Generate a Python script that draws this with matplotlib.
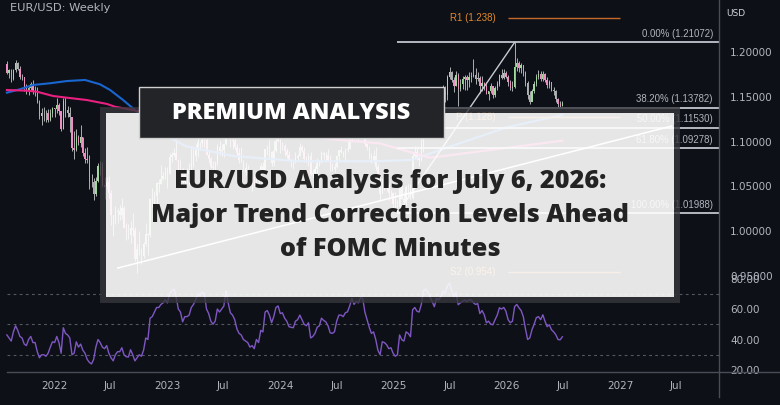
import matplotlib
matplotlib.use("Agg")
import matplotlib.dates as mdates
import matplotlib.pyplot as plt
import matplotlib.transforms as mtransforms
import pandas as pd
from matplotlib.lines import Line2D
from matplotlib.patches import Rectangle
from matplotlib.ticker import FuncFormatter

# ---- data: EUR/USD weekly candles (one bar per week from 2021-08-02) ----
first_week = "2021-08-02"
first_open = 1.1870
close = [
    1.1763, 1.1794, 1.1697, 1.1794, 1.1880, 1.1813, 1.1726, 1.1719, 1.1595, 1.1573,
    1.1600, 1.1644, 1.1557, 1.1568, 1.1446, 1.1288, 1.1318, 1.1315, 1.1317, 1.1238,
    1.1319, 1.1370, 1.1359, 1.1411, 1.1344, 1.1146, 1.1453, 1.1350, 1.1321, 1.1272,
    1.0930, 1.0911, 1.1051, 1.0983, 1.1046, 1.0876, 1.0810, 1.0790, 1.0545, 1.0550,
    1.0412, 1.0559, 1.0730, 1.0719, 1.0518, 1.0495, 1.0554, 1.0425, 1.0184, 1.0080,
    1.0211, 1.0224, 1.0182, 1.0256, 1.0036, 0.9964, 0.9953, 1.0040, 1.0015, 0.9690,
    0.9802, 0.9740, 0.9722, 0.9860, 0.9966, 0.9960, 1.0355, 1.0325, 1.0396, 1.0535,
    1.0530, 1.0584, 1.0616, 1.0705, 1.0644, 1.0830, 1.0855, 1.0870, 1.0795, 1.0679,
    1.0695, 1.0547, 1.0636, 1.0643, 1.0668, 1.0760, 1.0839, 1.0904, 1.0990, 1.0990,
    1.1020, 1.1020, 1.0850, 1.0805, 1.0720, 1.0710, 1.0750, 1.0940, 1.0895, 1.0910,
    1.0970, 1.1230, 1.1125, 1.1015, 1.1005, 1.0945, 1.0870, 1.0795, 1.0775, 1.0700,
    1.0660, 1.0650, 1.0570, 1.0590, 1.0510, 1.0595, 1.0565, 1.0730, 1.0685, 1.0915,
    1.0940, 1.0880, 1.0760, 1.0895, 1.1010, 1.1040, 1.0940, 1.0950, 1.0895, 1.0850,
    1.0790, 1.0785, 1.0775, 1.0820, 1.0840, 1.0940, 1.0890, 1.0810, 1.0790, 1.0840,
    1.0640, 1.0655, 1.0695, 1.0760, 1.0770, 1.0870, 1.0845, 1.0850, 1.0800, 1.0705,
    1.0690, 1.0715, 1.0840, 1.0905, 1.0885, 1.0855, 1.0910, 1.0920, 1.1030, 1.1190,
    1.1050, 1.1085, 1.1075, 1.1165, 1.1165, 1.0975, 1.0935, 1.0865, 1.0795, 1.0835,
    1.0720, 1.0530, 1.0415, 1.0575, 1.0565, 1.0500, 1.0430, 1.0425, 1.0305, 1.0245,
    1.0270, 1.0495, 1.0360, 1.0330, 1.0490, 1.0460, 1.0375, 1.0835, 1.0880, 1.0815,
    1.0800, 1.0960, 1.1360, 1.1395, 1.1365, 1.1300, 1.1250, 1.1165, 1.1365, 1.1350,
    1.1395, 1.1550, 1.1525, 1.1720, 1.1780, 1.1690, 1.1625, 1.1740, 1.1585, 1.1640,
    1.1700, 1.1720, 1.1685, 1.1720, 1.1735, 1.1745, 1.1700, 1.1715, 1.1620, 1.1655,
    1.1625, 1.1535, 1.1565, 1.1620, 1.1515, 1.1595, 1.1640, 1.1740, 1.1710, 1.1770,
    1.1720, 1.1660, 1.1600, 1.1610, 1.1830, 1.1880, 1.1820, 1.1850, 1.1770, 1.1650,
    1.1520, 1.1440, 1.1560, 1.1640, 1.1720, 1.1760, 1.1700, 1.1750, 1.1690, 1.1630,
    1.1660, 1.1580, 1.1560, 1.1470, 1.1420, 1.1400, 1.1430,
]
high = [
    1.1900, 1.1805, 1.1806, 1.1810, 1.1909, 1.1885, 1.1846, 1.1751, 1.1725, 1.1640,
    1.1624, 1.1669, 1.1692, 1.1616, 1.1609, 1.1464, 1.1374, 1.1383, 1.1355, 1.1360,
    1.1360, 1.1386, 1.1375, 1.1483, 1.1434, 1.1339, 1.1483, 1.1495, 1.1395, 1.1390,
    1.1233, 1.1121, 1.1137, 1.1070, 1.1185, 1.1055, 1.0930, 1.0936, 1.0850, 1.0642,
    1.0593, 1.0607, 1.0765, 1.0787, 1.0774, 1.0601, 1.0606, 1.0615, 1.0463, 1.0186,
    1.0278, 1.0254, 1.0294, 1.0368, 1.0277, 1.0090, 1.0079, 1.0114, 1.0198, 1.0051,
    0.9852, 0.9999, 0.9809, 0.9876, 1.0094, 0.9976, 1.0366, 1.0481, 1.0448, 1.0545,
    1.0588, 1.0736, 1.0658, 1.0713, 1.0713, 1.0875, 1.0887, 1.0929, 1.1033, 1.0800,
    1.0805, 1.0706, 1.0691, 1.0700, 1.0760, 1.0930, 1.0925, 1.0973, 1.1076, 1.1000,
    1.1095, 1.1092, 1.1055, 1.0907, 1.0828, 1.0779, 1.0787, 1.0971, 1.1012, 1.0976,
    1.0975, 1.1276, 1.1245, 1.1150, 1.1045, 1.1065, 1.0970, 1.0930, 1.0945, 1.0800,
    1.0769, 1.0737, 1.0656, 1.0600, 1.0640, 1.0640, 1.0695, 1.0756, 1.0775, 1.0918,
    1.0965, 1.1017, 1.0895, 1.1009, 1.1040, 1.1140, 1.1046, 1.1000, 1.0970, 1.0932,
    1.0898, 1.0810, 1.0806, 1.0888, 1.0865, 1.0981, 1.0964, 1.0942, 1.0842, 1.0876,
    1.0885, 1.0690, 1.0733, 1.0812, 1.0790, 1.0895, 1.0885, 1.0889, 1.0916, 1.0852,
    1.0761, 1.0762, 1.0848, 1.0910, 1.0948, 1.0900, 1.0926, 1.1008, 1.1047, 1.1201,
    1.1188, 1.1155, 1.1115, 1.1189, 1.1214, 1.1209, 1.0985, 1.0945, 1.0870, 1.0905,
    1.0937, 1.0750, 1.0610, 1.0597, 1.0630, 1.0595, 1.0535, 1.0456, 1.0437, 1.0436,
    1.0353, 1.0522, 1.0533, 1.0442, 1.0513, 1.0529, 1.0528, 1.0889, 1.0947, 1.0955,
    1.0857, 1.1144, 1.1474, 1.1424, 1.1573, 1.1425, 1.1380, 1.1295, 1.1376, 1.1420,
    1.1495, 1.1631, 1.1615, 1.1745, 1.1830, 1.1790, 1.1720, 1.1788, 1.1770, 1.1700,
    1.1730, 1.1743, 1.1740, 1.1780, 1.1780, 1.1918, 1.1820, 1.1780, 1.1730, 1.1730,
    1.1670, 1.1670, 1.1570, 1.1655, 1.1620, 1.1615, 1.1680, 1.1760, 1.1805, 1.1808,
    1.1790, 1.1745, 1.1690, 1.1680, 1.21072, 1.1930, 1.1900, 1.1880, 1.1860, 1.1790,
    1.1680, 1.1560, 1.1590, 1.1680, 1.1750, 1.1800, 1.1790, 1.1790, 1.1770, 1.1720,
    1.1690, 1.1670, 1.1610, 1.1580, 1.1490, 1.1450, 1.1450,
]
low = [
    1.1752, 1.1705, 1.1664, 1.1693, 1.1780, 1.1800, 1.1700, 1.1684, 1.1563, 1.1529,
    1.1524, 1.1571, 1.1535, 1.1513, 1.1432, 1.1250, 1.1186, 1.1235, 1.1222, 1.1222,
    1.1234, 1.1279, 1.1272, 1.1314, 1.1300, 1.1121, 1.1144, 1.1280, 1.1280, 1.1106,
    1.0900, 1.0806, 1.0900, 1.0960, 1.0945, 1.0837, 1.0757, 1.0760, 1.0471, 1.0490,
    1.0350, 1.0389, 1.0550, 1.0627, 1.0506, 1.0359, 1.0470, 1.0366, 1.0072, 0.9952,
    1.0080, 1.0097, 1.0123, 1.0140, 1.0032, 0.9900, 0.9910, 0.9864, 0.9945, 0.9671,
    0.9536, 0.9737, 0.9632, 0.9705, 0.9840, 0.9730, 0.9935, 1.0270, 1.0223, 1.0290,
    1.0443, 1.0526, 1.0575, 1.0586, 1.0483, 1.0643, 1.0768, 1.0835, 1.0790, 1.0669,
    1.0614, 1.0533, 1.0525, 1.0524, 1.0516, 1.0713, 1.0712, 1.0788, 1.0831, 1.0910,
    1.0943, 1.0941, 1.0849, 1.0760, 1.0700, 1.0635, 1.0662, 1.0735, 1.0845, 1.0834,
    1.0833, 1.0963, 1.1120, 1.0943, 1.0912, 1.0912, 1.0845, 1.0766, 1.0772, 1.0686,
    1.0632, 1.0616, 1.0488, 1.0448, 1.0496, 1.0496, 1.0522, 1.0516, 1.0656, 1.0656,
    1.0852, 1.0828, 1.0723, 1.0724, 1.0880, 1.1000, 1.0877, 1.0908, 1.0844, 1.0821,
    1.0780, 1.0722, 1.0695, 1.0761, 1.0795, 1.0834, 1.0880, 1.0800, 1.0776, 1.0724,
    1.0622, 1.0601, 1.0635, 1.0650, 1.0724, 1.0763, 1.0805, 1.0788, 1.0790, 1.0667,
    1.0671, 1.0666, 1.0710, 1.0790, 1.0870, 1.0825, 1.0777, 1.0880, 1.0915, 1.1020,
    1.1026, 1.1026, 1.1001, 1.1068, 1.1082, 1.0950, 1.0906, 1.0811, 1.0761, 1.0760,
    1.0682, 1.0496, 1.0332, 1.0424, 1.0460, 1.0453, 1.0343, 1.0380, 1.0225, 1.0215,
    1.0199, 1.0265, 1.0356, 1.0212, 1.0285, 1.0401, 1.0360, 1.0360, 1.0806, 1.0797,
    1.0733, 1.0778, 1.0880, 1.1265, 1.1310, 1.1265, 1.1190, 1.1065, 1.1130, 1.1210,
    1.1356, 1.1375, 1.1445, 1.1460, 1.1700, 1.1660, 1.1556, 1.1622, 1.1392, 1.1570,
    1.1590, 1.1573, 1.1575, 1.1608, 1.1660, 1.1725, 1.1645, 1.1680, 1.1540, 1.1560,
    1.1580, 1.1530, 1.1468, 1.1540, 1.1490, 1.1500, 1.1580, 1.1620, 1.1700, 1.1700,
    1.1710, 1.1620, 1.1575, 1.1560, 1.1600, 1.1790, 1.1780, 1.1770, 1.1730, 1.1620,
    1.1480, 1.1420, 1.1450, 1.1540, 1.1620, 1.1700, 1.1680, 1.1680, 1.1660, 1.1600,
    1.1600, 1.1560, 1.1520, 1.1440, 1.1390, 1.1370, 1.1395,
]
rsi = [
    43, 41, 39, 45, 49, 46, 42, 41, 37, 36,
    40, 42, 38, 38, 32, 28, 30, 30, 29, 31,
    35, 38.5, 38, 42, 38, 31, 47.7, 44, 43, 41,
    30, 31, 38.5, 35, 37, 33, 31, 27, 25, 24,
    27, 35, 40, 38, 35, 34, 36, 31, 28, 26,
    30, 32, 32, 34.6, 30, 28.7, 28.5, 33.3, 30, 26,
    28, 30, 29, 33, 41, 40, 54, 55, 58, 61,
    61, 63, 64, 66, 64, 70, 72, 73, 68, 60,
    58, 51.6, 55, 55, 56, 61, 63, 66, 70, 69,
    71, 70, 60, 57, 52, 50, 52, 60, 58, 60,
    62, 72, 64, 57.5, 56, 53, 47, 44, 43, 40,
    39, 38, 35, 36, 34, 40, 38, 46, 45, 58,
    59, 56, 51, 55, 61, 62, 57, 57.5, 54, 52,
    48.4, 48, 47.7, 52, 53, 56, 53, 50, 49, 51,
    41, 42, 44, 48, 49, 54, 52.5, 51.6, 49, 44.4,
    44, 45.1, 52, 56, 56, 55, 57.5, 58.2, 62, 67,
    63, 65, 64, 67.4, 67, 58, 53, 48, 44, 45,
    40, 33, 30, 38.5, 38, 36.6, 34, 34.6, 31, 29,
    30, 43, 39.8, 39, 45, 44, 41.8, 59.5, 61, 58.5,
    58, 63, 72, 73, 71, 68, 65, 61.5, 67, 66,
    68, 72, 70, 75, 77, 72, 68, 71, 62.8, 64,
    65, 66, 64.8, 66, 66, 64.1, 63, 63.5, 57, 59,
    56.2, 51, 52, 50, 49.7, 53, 56, 60.8, 60, 61,
    58.5, 53, 51, 52, 61.5, 63, 60.8, 59, 55, 47,
    40, 41, 46.4, 50, 54.3, 55, 53, 56.2, 52, 48.4,
    49.7, 46.4, 45, 43.1, 40, 39.8, 41.8,
]

# moving averages (blue / magenta), traced points
ma_blue_dates = ["2021-08-02", "2021-09-13", "2021-10-25", "2021-12-19", "2022-02-12",
                 "2022-04-11", "2022-05-29", "2022-07-01", "2022-08-12", "2022-09-19",
                 "2022-12-01", "2023-03-01", "2023-08-01", "2024-03-01", "2024-11-01",
                 "2025-02-26", "2025-08-01", "2026-01-01", "2026-06-29"]
ma_blue = [1.1546, 1.1584, 1.1632, 1.1651, 1.1676, 1.1688, 1.1640, 1.1576, 1.1464, 1.1353,
           1.1120, 1.0950, 1.0840, 1.0780, 1.0780, 1.0795, 1.0980, 1.1160, 1.1297]
ma_pink_dates = ["2021-08-02", "2021-10-06", "2021-11-07", "2021-12-29", "2022-02-12",
                 "2022-04-17", "2022-06-21", "2022-07-17", "2022-09-13", "2023-01-01",
                 "2023-09-01", "2024-05-01", "2024-11-17", "2025-04-28", "2026-06-29"]
ma_pink = [1.1576, 1.1568, 1.1557, 1.1509, 1.1490, 1.1464, 1.1420, 1.1389, 1.1353, 1.1250,
           1.1130, 1.1040, 1.0980, 1.0820, 1.1010]

# Fibonacci retracement drawing
fib_pct = [0.0, 38.2, 50.0, 61.8, 100.0]
fib_price = [1.21072, 1.13782, 1.11530, 1.09278, 1.01988]
fib_from = "2025-01-13"
fib_swing_dates = ["2025-01-13", "2026-01-26"]
fib_swing_prices = [1.01988, 1.21072]

# yearly pivots
pivot_names = ["R1", "P", "S2"]
pivot_prices = [1.238, 1.128, 0.954]
pivot_from, pivot_to = "2026-01-05", "2027-01-01"

# long trendline
trend_dates = ["2022-07-26", "2027-06-17"]
trend_prices = [0.9589, 1.1174]

price_ticks = [0.95, 1.00, 1.05, 1.10, 1.15, 1.20]
rsi_ticks = [20, 40, 60, 80]
rsi_levels = [70, 50, 30]
x_tick_dates = ["2022-01-01", "2022-07-01", "2023-01-01", "2023-07-01", "2024-01-01",
                "2024-07-01", "2025-01-01", "2025-07-01", "2026-01-01", "2026-07-01",
                "2027-01-01", "2027-07-01"]
x_tick_labels = ["2022", "Jul", "2023", "Jul", "2024", "Jul", "2025", "Jul", "2026", "Jul",
                 "2027", "Jul"]

title_lines = ["EUR/USD Analysis for July 6, 2026:",
               "Major Trend Correction Levels Ahead",
               "of FOMC Minutes"]

# ---- styling ----
BG = "#0e1017"
TXT = "#b2b5be"
GRID = "#4a4d57"
UP, DOWN, WICK = "#9fd99b", "#ee8fc4", "#c6c6c6"
ORANGE = "#e0892a"
SMALL = "Liberation Sans"

W, H = 780, 405
fig = plt.figure(figsize=(W / 100, H / 100), dpi=100, facecolor=BG)

ax_p = fig.add_axes([0, (H - 285) / H, 719 / W, 285 / H])
ax_r = fig.add_axes([0, (H - 372) / H, 719 / W, 96 / H])
x_left = mdates.date2num(pd.Timestamp("2021-07-10 19:00"))
x_right = mdates.date2num(pd.Timestamp("2027-11-16 10:00"))
for ax in (ax_p, ax_r):
    ax.set_facecolor("none")
    for s in ax.spines.values():
        s.set_visible(False)
    ax.set_xlim(x_left, x_right)
    ax.yaxis.tick_right()
    ax.tick_params(axis="y", length=0, pad=8, labelsize=7.5, labelcolor=TXT)
ax_p.set_ylim(0.93996, 1.25804)
ax_r.set_ylim(18.69, 81.64)

dates = pd.date_range(first_week, periods=len(close), freq="7D")
xd = mdates.date2num(dates)
opens = [first_open] + close[:-1]
body_lo = [min(o, c) for o, c in zip(opens, close)]
body_h = [abs(c - o) for o, c in zip(opens, close)]
colors = [UP if c >= o else DOWN for o, c in zip(opens, close)]
ax_p.vlines(xd, low, high, color=WICK, lw=0.6, zorder=2)
ax_p.bar(xd, body_h, bottom=body_lo, width=4.3, color=colors, linewidth=0, zorder=3)

ax_p.plot(pd.to_datetime(ma_blue_dates), ma_blue, color="#1a66d0", lw=1.5, zorder=4)
ax_p.plot(pd.to_datetime(ma_pink_dates), ma_pink, color="#e8207f", lw=1.5, zorder=4)

# fib retracement
fx0 = mdates.date2num(pd.Timestamp(fib_from))
ax_p.hlines(fib_price, fx0, x_right, color="#d1d4dc", lw=1.2, zorder=5)
ax_p.plot(pd.to_datetime(fib_swing_dates), fib_swing_prices, color="#c9cbd1", lw=1.0, zorder=5)
lab_tr = mtransforms.blended_transform_factory(ax_p.transAxes, ax_p.transData)
for pct, pr in zip(fib_pct, fib_price):
    ax_p.annotate(f"{pct:.2f}% ({pr:.5f})", xy=(713 / 719, pr), xycoords=lab_tr,
                  xytext=(0, 2.5), textcoords="offset points", ha="right", va="bottom",
                  fontsize=6.9, family=SMALL, color=TXT, zorder=6)

# pivots
px0 = mdates.date2num(pd.Timestamp(pivot_from))
px1 = mdates.date2num(pd.Timestamp(pivot_to))
ax_p.hlines(pivot_prices, px0, px1, color="#c46a28", lw=1.0, zorder=5)
for name, pr in zip(pivot_names, pivot_prices):
    ax_p.annotate(f"{name} ({pr:.3f})", xy=(px0, pr), xytext=(-9, 0),
                  textcoords="offset points", ha="right", va="center",
                  fontsize=7, family=SMALL, color=ORANGE, zorder=6)

# trendline
ax_p.plot(pd.to_datetime(trend_dates), trend_prices, color="white", lw=1.1, zorder=5)

ax_p.set_xticks([])
ax_p.set_yticks(price_ticks)
ax_p.yaxis.set_major_formatter(FuncFormatter(lambda v, _: f"{v:.5f}"))

# RSI pane
for lv in rsi_levels:
    ax_r.axhline(lv, xmin=7 / 719, color="#555862", lw=0.8, ls=(0, (2.5, 3)), zorder=1)
ax_r.plot(dates, rsi, color="#7e57c2", lw=1.0, zorder=3)
ax_r.set_yticks(rsi_ticks)
ax_r.yaxis.set_major_formatter(FuncFormatter(lambda v, _: f"{v:.2f}"))
ax_r.set_xticks(mdates.date2num(pd.to_datetime(x_tick_dates)))
ax_r.set_xticklabels(x_tick_labels)
ax_r.tick_params(axis="x", length=0, pad=6.5, labelsize=7.5, labelcolor=TXT)

# ---- overlay layer in pixel coordinates ----
ov = fig.add_axes([0, 0, 1, 1], zorder=10)
ov.set_xlim(0, W)
ov.set_ylim(H, 0)
ov.axis("off")
ov.patch.set_alpha(0)

ov.add_line(Line2D([7, W], [372, 372], color=GRID, lw=1))
ov.add_line(Line2D([719, 719], [0, 397], color=GRID, lw=1))
ov.text(10, 8, "EUR/USD: Weekly", ha="left", va="center", fontsize=8.2, color=TXT)
ov.text(736, 13, "USD", ha="center", va="center", fontsize=6.5, color="#d1d4dc")

ov.add_patch(Rectangle((103, 110), 574, 190, fill=False, edgecolor="#36373c",
                       lw=4.3, alpha=0.8, joinstyle="miter"))
ov.add_patch(Rectangle((106, 113), 568, 184, facecolor="white", alpha=0.9, lw=0))
ov.add_patch(Rectangle((139, 87), 305, 51, facecolor="#232428", edgecolor="#cfcfcf", lw=1))
ov.text(291, 113, "PREMIUM ANALYSIS", ha="center", va="center", fontsize=16.9,
        fontweight="heavy", family="Open Sans", color="white")
for yb, line in zip([187.5, 221.7, 256], title_lines):
    ov.text(390, yb, line, ha="center", va="baseline", fontsize=18.2, fontweight="heavy",
            family="Open Sans", color="#232323")

fig.savefig("out.png", dpi=100, facecolor=BG)
